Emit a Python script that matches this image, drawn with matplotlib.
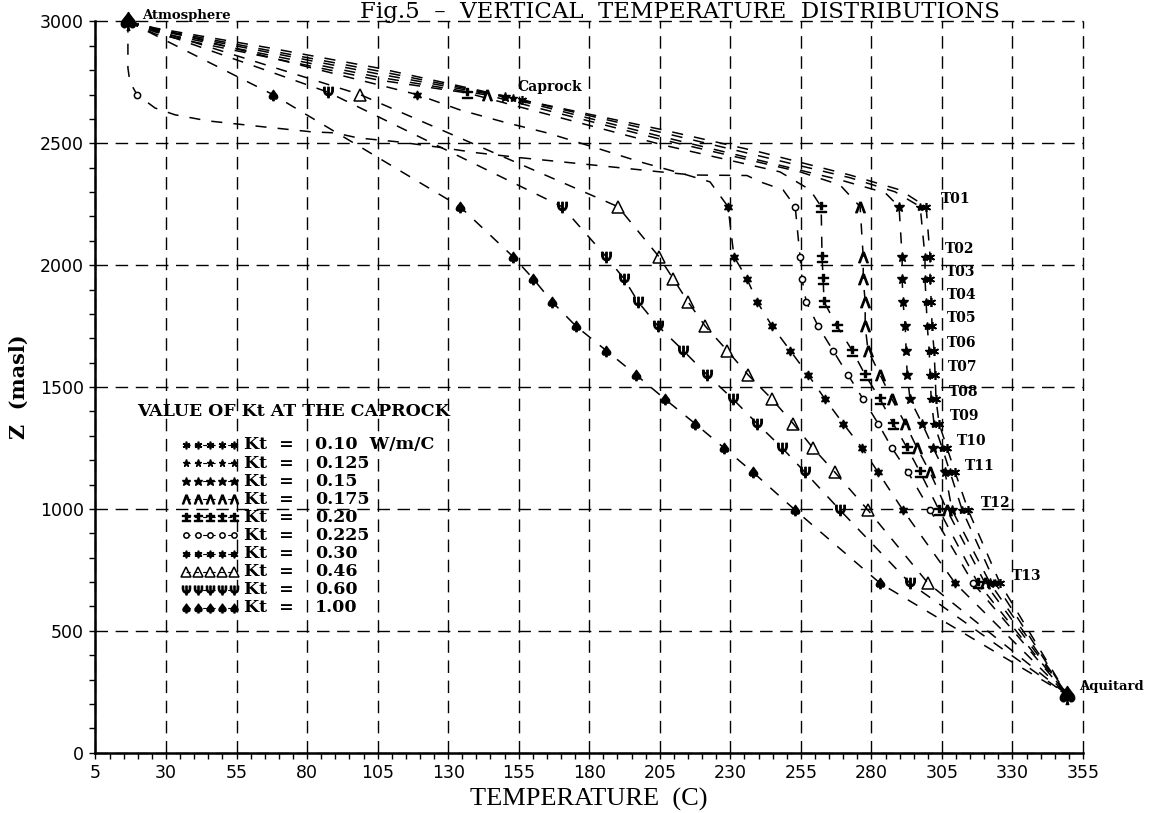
import numpy as np
import matplotlib
matplotlib.use("Agg")
import matplotlib.pyplot as plt
from matplotlib.ticker import MultipleLocator

plt.rcParams['lines.scale_dashes'] = False

# elevations (masl) of the marker rows T01..T13
row_z = [2240, 2035, 1945, 1850, 1750, 1650, 1550, 1450, 1350, 1250, 1150, 995, 695]
row_names = ["T01", "T02", "T03", "T04", "T05", "T06", "T07", "T08", "T09", "T10",
             "T11", "T12", "T13"]
label_t = [304.7, 306.1, 306.5, 306.8, 306.8, 306.8, 307.2, 307.5, 307.9, 310.4,
           313.2, 318.9, 329.9]
label_z = [2272, 2066, 1972, 1878, 1783, 1681, 1582, 1480, 1381, 1279, 1176, 1025, 725]

# boundary points
atm_t, atm_z = 16.5, 3000
aq_t, aq_z = 349.4, 237

# Kt values, legend order (top to bottom)
kt_labels = ["0.10  W/m/C", "0.125", "0.15", "0.175", "0.20", "0.225", "0.30",
             "0.46", "0.60", "1.00"]

# caprock markers, same order as kt_labels
cap_t = [156.2, 153.0, 150.2, 143.8, 136.6, 19.7, 119.0, 98.8, 87.4, 67.9]
cap_z = [2678, 2686, 2690, 2698, 2707, 2700, 2700, 2700, 2710, 2700]

# upper part of each profile (atmosphere -> caprock -> T01)
up_t_010 = [16.5, 26.1, 66.9, 105.1, 130.6, 156.2, 206.2, 240.6, 272.4, 290.1]
up_z_010 = [3000, 2973, 2891, 2809, 2744, 2678, 2555, 2464, 2370, 2309]
up_t_0125 = [16.5, 26.1, 105.1, 153.0, 206.2, 272.4, 288.4]
up_z_0125 = [3000, 2969, 2797, 2686, 2543, 2359, 2301]
up_t_015 = [16.5, 26.1, 105.1, 150.2, 206.2, 268.9, 284.9]
up_z_015 = [3000, 2965, 2785, 2690, 2526, 2350, 2297]
up_t_0175 = [16.5, 26.1, 105.1, 143.8, 206.2, 254.7, 268.9]
up_z_0175 = [3000, 2957, 2772, 2698, 2514, 2383, 2329]
up_t_020 = [16.5, 26.1, 105.1, 136.6, 206.2, 247.6, 258.3]
up_z_020 = [3000, 2949, 2760, 2707, 2493, 2383, 2309]
up_t_0225 = [16.5, 16.5, 17.2, 19.7, 26.1, 33.2, 44.9, 65.1, 81.7, 89.9, 98.1, 112.3,
             126.1, 140.3, 156.5, 181.4, 205.1, 216.8, 235.9, 240.6, 248.7]
up_z_0225 = [3000, 2809, 2752, 2700, 2645, 2617, 2592, 2567, 2547, 2543, 2522, 2506,
             2485, 2461, 2440, 2411, 2383, 2370, 2368, 2342, 2309]
up_t_030 = [16.5, 119.0, 134.2, 149.5, 165.0, 181.4, 198.0, 214.7, 222.8]
up_z_030 = [3000, 2700, 2637, 2588, 2543, 2485, 2424, 2370, 2342]
up_t_046 = [16.5, 98.8]
up_z_046 = [3000, 2700]
up_t_060 = [16.5, 87.4]
up_z_060 = [3000, 2710]
up_t_100 = [16.5, 67.9]
up_z_100 = [3000, 2700]

# temperatures (C) at the rows T01..T13
rows_t_010 = [299.4, 300.8, 300.8, 301.2, 301.5, 302.2, 302.6, 302.9, 304.0, 306.8, 309.7, 314.3, 325.6]
rows_t_0125 = [297.3, 299.0, 299.0, 299.4, 299.8, 300.5, 300.8, 301.2, 302.2, 305.1, 307.9, 312.2, 323.9]
rows_t_015 = [289.8, 290.9, 290.9, 291.2, 292.0, 292.3, 292.7, 293.7, 298.0, 301.9, 306.1, 308.6, 322.1]
rows_t_0175 = [276.0, 277.1, 277.1, 277.8, 277.8, 278.8, 283.1, 287.3, 292.0, 296.2, 300.8, 306.8, 320.3]
rows_t_020 = [262.2, 262.5, 262.9, 263.2, 267.8, 273.2, 277.8, 283.1, 287.7, 292.7, 297.3, 304.0, 317.8]
rows_t_0225 = [253.0, 254.7, 255.4, 256.9, 261.1, 266.4, 271.7, 277.1, 282.4, 287.3, 293.0, 300.8, 316.1]
rows_t_030 = [229.2, 231.3, 235.9, 239.5, 244.8, 251.2, 257.6, 263.6, 270.0, 276.7, 282.4, 291.2, 309.7]
rows_t_046 = [190.2, 204.7, 209.7, 215.0, 221.1, 228.9, 236.3, 244.8, 252.3, 259.3, 267.1, 278.8, 300.1]
rows_t_060 = [170.4, 186.0, 192.3, 197.3, 204.4, 213.3, 221.8, 231.0, 239.5, 248.4, 256.5, 268.9, 293.7]
rows_t_100 = [134.2, 153.0, 160.1, 166.8, 175.3, 186.0, 196.6, 206.9, 217.5, 227.8, 238.1, 253.0, 283.1]

# marker look for each Kt (legend order)
styles = [
    dict(marker=(6, 2, 0), ms=6.5, mew=1.2, mec='black'),
    dict(marker='*', ms=6, mfc='black', mec='black'),
    dict(marker='*', ms=7.5, mfc='black', mec='black'),
    dict(marker=r'$\Lambda$', ms=7.5, mfc='black', mec='black'),
    dict(marker=r'$\pm$', ms=7, mfc='black', mec='black'),
    dict(marker='o', ms=4.5, mfc='white', mec='black', mew=1.1),
    dict(marker=(6, 1, 0), ms=6.5, mfc='black', mec='black'),
    dict(marker='^', ms=8, mfc='none', mec='black', mew=1.1),
    dict(marker=r'$\Psi$', ms=7.5, mfc='black', mec='black'),
    dict(marker=r'$\spadesuit$', ms=7.5, mfc='black', mec='black'),
]

curves = [
    (up_t_010, up_z_010, rows_t_010),
    (up_t_0125, up_z_0125, rows_t_0125),
    (up_t_015, up_z_015, rows_t_015),
    (up_t_0175, up_z_0175, rows_t_0175),
    (up_t_020, up_z_020, rows_t_020),
    (up_t_0225, up_z_0225, rows_t_0225),
    (up_t_030, up_z_030, rows_t_030),
    (up_t_046, up_z_046, rows_t_046),
    (up_t_060, up_z_060, rows_t_060),
    (up_t_100, up_z_100, rows_t_100),
]

serif = 'DejaVu Serif'

fig = plt.figure(figsize=(11.53, 8.13), dpi=100)
ax = fig.add_axes([0.0828, 0.0742, 0.8565, 0.8994])
ax.set_xlim(5, 355)
ax.set_ylim(0, 3000)

curve_dash = (0, (8, 8))
for i, (ut, uz, rt) in enumerate(curves):
    ax.plot(ut + rt + [aq_t], uz + row_z + [aq_z], color='black', lw=1.1,
            ls=curve_dash, zorder=3)
    ax.plot(rt, row_z, ls='none', zorder=4, **styles[i])
    ax.plot([cap_t[i]], [cap_z[i]], ls='none', zorder=4, **styles[i])

# boundary markers
ax.plot([atm_t], [atm_z], ls='none', marker=r'$\spadesuit$', ms=13, color='black',
        zorder=5, clip_on=False)
ax.plot([aq_t], [aq_z], ls='none', marker=r'$\spadesuit$', ms=13, color='black',
        zorder=5, clip_on=False)

ax.text(21.5, 3026, "Atmosphere", fontsize=9.5, fontweight='bold', family=serif,
        ha='left', va='center')
ax.text(353.6, 270, "Aquitard", fontsize=9.5, fontweight='bold', family=serif,
        ha='left', va='center')
ax.text(154.4, 2731, "Caprock", fontsize=10, fontweight='bold', family=serif,
        ha='left', va='center')
for name, lt, lz in zip(row_names, label_t, label_z):
    ax.text(lt, lz, name, fontsize=10, fontweight='bold', family=serif,
            ha='left', va='center')

# legend block
ax.text(0.042, 0.466, "VALUE OF Kt AT THE CAPROCK", transform=ax.transAxes,
        fontsize=12.5, fontweight='bold', family=serif, ha='left', va='center')
leg_x = [0.092, 0.104, 0.116, 0.128, 0.140]
for i, lab in enumerate(kt_labels):
    fy = 0.4208 - i * 0.02475
    st = dict(styles[i])
    st['ms'] = st['ms'] * 0.85
    ax.plot(leg_x, [fy] * 5, transform=ax.transAxes, color='black', lw=0.8,
            ls=(0, (3, 3)), clip_on=False, zorder=4, **st)
    ax.text(0.1504, fy, "Kt  =", transform=ax.transAxes, fontsize=12.5,
            fontweight='bold', family=serif, ha='left', va='center')
    ax.text(0.2223, fy, lab, transform=ax.transAxes, fontsize=12.5,
            fontweight='bold', family=serif, ha='left', va='center')

# axes, ticks, grid
ax.set_xticks(np.arange(5, 356, 25))
ax.set_yticks(np.arange(0, 3001, 500))
ax.xaxis.set_minor_locator(MultipleLocator(5))
ax.yaxis.set_minor_locator(MultipleLocator(100))
ax.tick_params(which='both', direction='out', length=4.5, width=1.0, color='black')
ax.tick_params(axis='x', pad=4)
ax.tick_params(axis='y', pad=4)
for lab in ax.get_xticklabels() + ax.get_yticklabels():
    lab.set_fontfamily('DejaVu Sans')
    lab.set_fontsize(12.5)

ax.grid(True, which='major', color='black', lw=1.0, ls=(0, (9, 5.5)))
for gl in ax.get_xgridlines() + ax.get_ygridlines():
    gl.set_clip_on(False)
ax.spines['top'].set_visible(False)
ax.spines['right'].set_visible(False)
ax.spines['left'].set_linewidth(1.8)
ax.spines['bottom'].set_linewidth(1.8)
ax.set_axisbelow(True)

ax.set_xlabel("TEMPERATURE  (C)", family='Liberation Serif', fontsize=19, labelpad=4)
ax.set_ylabel("Z  (masl)", family=serif, fontsize=15, fontweight='bold', labelpad=8)

fig.text(0.3125, 0.9775, "Fig.5  \u2013  VERTICAL  TEMPERATURE  DISTRIBUTIONS",
         family=serif, fontsize=16.5, ha='left', va='baseline')

fig.savefig("out.png", dpi=100, facecolor='white')
